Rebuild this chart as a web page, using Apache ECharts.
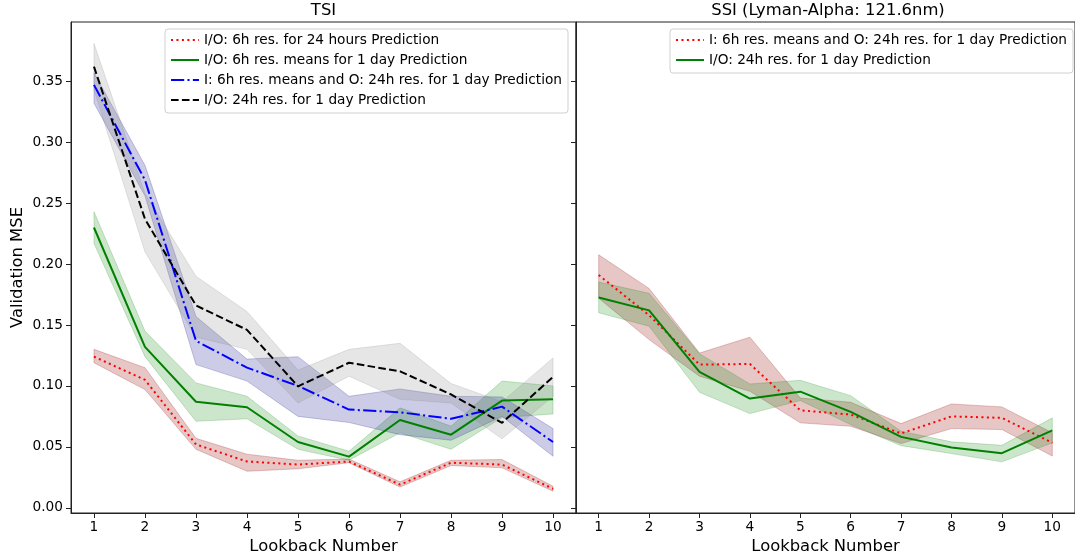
<!DOCTYPE html>
<html><head><meta charset="utf-8">
<script src="https://cdn.jsdelivr.net/npm/echarts@6/dist/echarts.min.js"></script>
<style>html,body{margin:0;padding:0;background:#fff}#c{width:1075px;height:560px}</style>
</head><body><div id="c"></div>
<script>
const lookback = [1,2,3,4,5,6,7,8,9,10];
const yTicks = [0,0.05,0.10,0.15,0.20,0.25,0.30,0.35];

const tsiLabels = ['I/O: 6h res. for 24 hours Prediction','I/O: 6h res. means for 1 day Prediction','I: 6h res. means and O: 24h res. for 1 day Prediction','I/O: 24h res. for 1 day Prediction'];
const ssiLabels = ['I: 6h res. means and O: 24h res. for 1 day Prediction','I/O: 24h res. for 1 day Prediction'];

// TSI panel
const tsiRedMean = [0.124,0.105,0.052,0.038,0.0355,0.038,0.019,0.037,0.0355,0.0156];
const tsiRedLo   = [0.119,0.097,0.048,0.030,0.032,0.037,0.017,0.0347,0.0328,0.0136];
const tsiRedHi   = [0.130,0.115,0.057,0.044,0.039,0.040,0.0213,0.039,0.0396,0.0177];

const tsiGreenMean = [0.230,0.132,0.087,0.0825,0.054,0.042,0.072,0.060,0.088,0.089];
const tsiGreenLo   = [0.217,0.124,0.071,0.073,0.048,0.039,0.0615,0.048,0.074,0.077];
const tsiGreenHi   = [0.243,0.145,0.1025,0.0915,0.059,0.0464,0.082,0.067,0.104,0.100];

const tsiBlueMean = [0.347,0.269,0.137,0.115,0.100,0.0806,0.0784,0.073,0.083,0.054];
const tsiBlueLo   = [0.332,0.256,0.1175,0.104,0.075,0.070,0.060,0.0554,0.075,0.0423];
const tsiBlueHi   = [0.357,0.281,0.157,0.122,0.124,0.0915,0.0975,0.0915,0.091,0.065];

const tsiBlackMean = [0.362,0.237,0.166,0.146,0.0997,0.119,0.112,0.093,0.0697,0.1074];
const tsiBlackLo   = [0.343,0.210,0.140,0.130,0.086,0.108,0.089,0.086,0.0566,0.0915];
const tsiBlackHi   = [0.381,0.258,0.190,0.161,0.113,0.130,0.135,0.102,0.087,0.123];

// SSI panel
const ssiRedMean = [0.191,0.158,0.1175,0.118,0.080,0.0765,0.061,0.075,0.0738,0.0533];
const ssiRedLo   = [0.172,0.138,0.108,0.0956,0.0697,0.0669,0.0527,0.065,0.0642,0.0425];
const ssiRedHi   = [0.2076,0.180,0.127,0.140,0.090,0.0866,0.0691,0.0852,0.0828,0.0615];

const ssiGreenMean = [0.1726,0.162,0.1115,0.0896,0.0953,0.0787,0.0582,0.0494,0.0448,0.0636];
const ssiGreenLo   = [0.160,0.149,0.0948,0.0773,0.088,0.0683,0.051,0.0445,0.0377,0.0533];
const ssiGreenHi   = [0.1852,0.176,0.1265,0.1016,0.1046,0.092,0.0628,0.0541,0.0513,0.0738];

const FONT = '"DejaVu Sans", "Liberation Sans", sans-serif';
const DOTTED = [2.05,3.4], DASHED = [7.6,3.3], DASHDOT = [13.2,3.3,2.05,3.3];
const SSI_PREFIX = '[SSI] ';

function band(name, g, lo, hi, color){
  return {
    type:'custom', name:name, xAxisIndex:g, yAxisIndex:g, z:1, silent:true,
    data: lookback.map((x,i)=>[x, lo[i], hi[i]]),
    encode:{x:0, y:[1,2]},
    renderItem:function(params, api){
      if(params.dataIndex !== 0) return null;
      const pts=[];
      for(let i=0;i<lookback.length;i++) pts.push(api.coord([lookback[i], hi[i]]));
      for(let i=lookback.length-1;i>=0;i--) pts.push(api.coord([lookback[i], lo[i]]));
      return {type:'polygon', shape:{points:pts}, style:{fill:color, stroke:color, lineWidth:1}};
    }
  };
}
function line(name, g, mean, color, dash){
  return {
    type:'line', name:name, xAxisIndex:g, yAxisIndex:g, z:3, symbol:'none', silent:true,
    data: lookback.map((x,i)=>[x, mean[i]]),
    lineStyle:{color:color, width:2, type:dash, cap:'butt'},
    itemStyle:{color:color}
  };
}

const RED_BAND = 'rgba(150,10,10,0.23)';
const GREEN_BAND = 'rgba(0,128,0,0.2)';
const BLUE_BAND = 'rgba(0,0,128,0.2)';
const GREY_BAND = 'rgba(128,128,128,0.2)';

const series = [
  band('b0',0,tsiRedLo,tsiRedHi,RED_BAND),
  band('b1',0,tsiGreenLo,tsiGreenHi,GREEN_BAND),
  band('b2',0,tsiBlueLo,tsiBlueHi,BLUE_BAND),
  band('b3',0,tsiBlackLo,tsiBlackHi,GREY_BAND),
  line(tsiLabels[0],0,tsiRedMean,'#ff0000',DOTTED),
  line(tsiLabels[1],0,tsiGreenMean,'#008000','solid'),
  line(tsiLabels[2],0,tsiBlueMean,'#0000ff',DASHDOT),
  line(tsiLabels[3],0,tsiBlackMean,'#000000',DASHED),
  band('b4',1,ssiRedLo,ssiRedHi,RED_BAND),
  band('b5',1,ssiGreenLo,ssiGreenHi,GREEN_BAND),
  line(SSI_PREFIX+ssiLabels[0],1,ssiRedMean,'#ff0000',DOTTED),
  line(SSI_PREFIX+ssiLabels[1],1,ssiGreenMean,'#008000','solid')
];

const gridTop = 22, gridH = 491.5;
const axisCol = '#222';
function xAxis(g){
  return {
    type:'value', gridIndex:g, min:0.55, max:10.45,
    axisLine:{show:true, onZero:false, lineStyle:{color:axisCol, width:1}},
    axisTick:{show:true, customValues:lookback, length:5, lineStyle:{color:axisCol, width:1}},
    axisLabel:{show:true, customValues:lookback, fontSize:13.7, fontFamily:FONT, color:'#000', margin:7},
    splitLine:{show:false},
    name:'Lookback Number', nameLocation:'middle', nameGap:26,
    nameTextStyle:{fontSize:16.4, fontFamily:FONT, color:'#000'}
  };
}
function yAxis(g){
  const o = {
    type:'value', gridIndex:g, min:-0.00426, max:0.3986,
    axisLine:{show:true, onZero:false, lineStyle:{color:axisCol, width:1}},
    axisTick:{show:true, customValues:yTicks, length:5, lineStyle:{color:axisCol, width:1}},
    axisLabel:{show:g===0, customValues:yTicks, fontSize:13.7, fontFamily:FONT, color:'#000', margin:8,
      formatter:v=>v.toFixed(2)},
    splitLine:{show:false}
  };
  if(g===0){
    o.name='Validation MSE'; o.nameLocation='middle'; o.nameGap=45;
    o.nameTextStyle={fontSize:16.4, fontFamily:FONT, color:'#000'};
  }
  return o;
}
const legendCommon = {
  orient:'vertical', itemWidth:28, itemHeight:14, itemGap:6,
  backgroundColor:'rgba(255,255,255,0.8)', borderColor:'#d0d0d0', borderWidth:1, borderRadius:3,
  padding:[4,6,6,5], selectedMode:false,
  itemStyle:{opacity:0, borderWidth:0},
  textStyle:{fontSize:13.7, fontFamily:FONT, color:'#000', lineHeight:14},
  formatter:n=>n.indexOf(SSI_PREFIX)===0 ? n.slice(SSI_PREFIX.length) : n
};

const chart = echarts.init(document.getElementById('c'), null, {renderer:'canvas'});
chart.setOption({
  animation:false,
  backgroundColor:'#fff',
  grid:[
    {left:71, top:gridTop, width:505, height:gridH, show:true, borderColor:axisCol, borderWidth:1, backgroundColor:'transparent'},
    {left:576, top:gridTop, width:505, height:gridH, show:true, borderColor:axisCol, borderWidth:1, backgroundColor:'transparent'}
  ],
  xAxis:[xAxis(0), xAxis(1)],
  yAxis:[yAxis(0), yAxis(1)],
  legend:[
    Object.assign({}, legendCommon, {left:165, top:29, data:tsiLabels}),
    Object.assign({}, legendCommon, {left:670, top:29, data:ssiLabels.map(n=>SSI_PREFIX+n)})
  ],
  graphic:[
    {type:'text', x:323.5, y:11, style:{text:'TSI', fontSize:16.4, fontFamily:FONT, fill:'#000', align:'center', verticalAlign:'middle'}},
    {type:'text', x:828, y:11, style:{text:'SSI (Lyman-Alpha: 121.6nm)', fontSize:16.4, fontFamily:FONT, fill:'#000', align:'center', verticalAlign:'middle'}}
  ],
  series:series
});
</script></body></html>
